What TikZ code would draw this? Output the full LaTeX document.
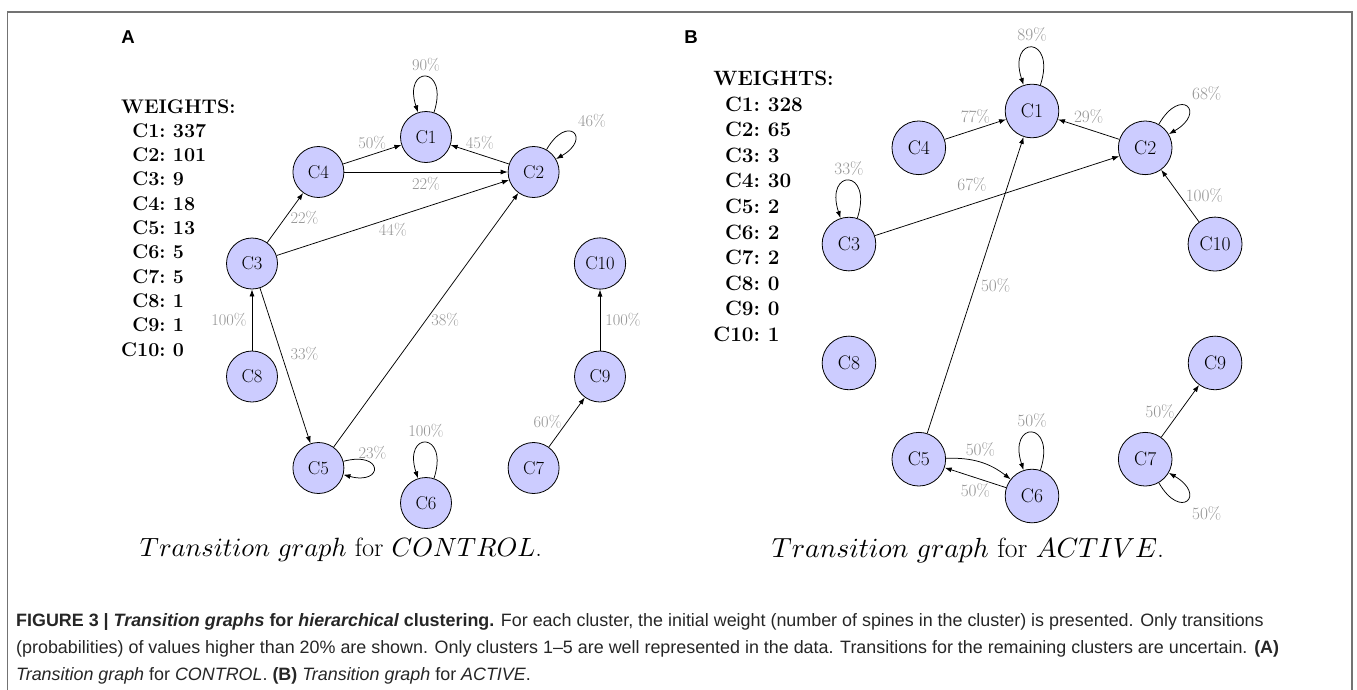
\documentclass[tikz,border=0pt]{standalone}
\usepackage{fontspec}
\newfontfamily\capfont{Liberation Sans}
\usetikzlibrary{arrows.meta}
% math italic at any size
\DeclareFontShape{OML}{cmm}{m}{it}{<->cmmi10}{}

\begin{document}
\begin{tikzpicture}[x=1pt,y=-1pt,
  cnode/.style={circle,draw=black,line width=0.8pt,fill=blue!20,minimum size=51pt,
    inner sep=7pt,font=\fontsize{18.6}{20}\selectfont},
  edge/.style={-{Latex[length=7pt,width=5pt]},line width=0.75pt},
  lbl/.style={font=\fontsize{16.4}{18}\selectfont,text=black!42,inner sep=5pt},
  weights/.style={anchor=base west,inner sep=0pt,font=\bfseries\fontsize{19.7}{24.3}\selectfont},
  title/.style={font=\fontsize{26.4}{30}\selectfont},
  paneltag/.style={font=\capfont\bfseries\fontsize{18.6}{20}\selectfont},
  capline/.style={anchor=base west,inner sep=0pt,text=black!85,font=\capfont\fontsize{17.9}{20}\selectfont},
]
\useasboundingbox (0,0) rectangle (1357,689);

% open frame around the figure
\draw[line width=1.4pt,black!55] (7.5,700) -- (7.5,12) -- (1352,12) -- (1352,700);

\node[paneltag] (tagA) at (128,37) {A};
\node[paneltag] (tagB) at (691,37) {B};

% ---------------- panel A: CONTROL ----------------
\begin{scope}[shift={(426,320)}]
  \node[weights] (wA) at (-305,-207) {\begin{tabular}[t]{@{}r@{\ }l@{}}
    \multicolumn{2}{@{}l@{}}{WEIGHTS:}\\
    C1:&337\\ C2:&101\\ C3:&9\\ C4:&18\\ C5:&13\\
    C6:&5\\ C7:&5\\ C8:&1\\ C9:&1\\ C10:&0\end{tabular}};

  \node[cnode] (a1)  at (0,-183)        {C1};
  \node[cnode] (a2)  at (107.6,-148)    {C2};
  \node[cnode] (a10) at (174,-56.5)     {C10};
  \node[cnode] (a9)  at (174,56.5)      {C9};
  \node[cnode] (a7)  at (107.6,148)     {C7};
  \node[cnode] (a6)  at (0,183)         {C6};
  \node[cnode] (a5)  at (-107.6,148)    {C5};
  \node[cnode] (a8)  at (-174,56.5)     {C8};
  \node[cnode] (a3)  at (-174,-56.5)    {C3};
  \node[cnode] (a4)  at (-107.6,-148)   {C4};

  \draw[edge] (a1) to[out=72,in=108,looseness=8] node[lbl,above] {90\%} (a1);
  \draw[edge] (a2) to[out=60,in=30,looseness=8] node[lbl,above right] {46\%} (a2);
  \draw[edge] (a4) -- node[lbl,above] {50\%} (a1);
  \draw[edge] (a2) -- node[lbl,above] {45\%} (a1);
  \draw[edge] (a4) -- node[lbl,below] {22\%} (a2);
  \draw[edge] (a3) -- node[lbl,right] {22\%} (a4);
  \draw[edge] (a3) -- node[lbl,below] {44\%} (a2);
  \draw[edge] (a8) -- node[lbl,left] {100\%} (a3);
  \draw[edge] (a3) -- node[lbl,above right] {33\%} (a5);
  \draw[edge] (a5) -- node[lbl,right] {38\%} (a2);
  \draw[edge] (a5) to[out=15,in=-15,looseness=8] node[lbl,above,pos=0.4] {23\%} (a5);
  \draw[edge] (a6) to[out=72,in=108,looseness=8] node[lbl,above] {100\%} (a6);
  \draw[edge] (a7) -- node[lbl,left] {60\%} (a9);
  \draw[edge] (a9) -- node[lbl,right] {100\%} (a10);
\end{scope}

% ---------------- panel B: ACTIVE ----------------
\begin{scope}[shift={(1032,303.5)},scale=1.052,transform shape]
  \node[weights] (wB) at (-303,-207) {\begin{tabular}[t]{@{}r@{\ }l@{}}
    \multicolumn{2}{@{}l@{}}{WEIGHTS:}\\
    C1:&328\\ C2:&65\\ C3:&3\\ C4:&30\\ C5:&2\\
    C6:&2\\ C7:&2\\ C8:&0\\ C9:&0\\ C10:&1\end{tabular}};

  \node[cnode] (b1)  at (0,-183)        {C1};
  \node[cnode] (b2)  at (107.6,-148)    {C2};
  \node[cnode] (b10) at (174,-56.5)     {C10};
  \node[cnode] (b9)  at (174,56.5)      {C9};
  \node[cnode] (b7)  at (107.6,148)     {C7};
  \node[cnode] (b6)  at (0,183)         {C6};
  \node[cnode] (b5)  at (-107.6,148)    {C5};
  \node[cnode] (b8)  at (-174,56.5)     {C8};
  \node[cnode] (b3)  at (-174,-56.5)    {C3};
  \node[cnode] (b4)  at (-107.6,-148)   {C4};

  \draw[edge] (b1) to[out=72,in=108,looseness=8] node[lbl,above] {89\%} (b1);
  \draw[edge] (b2) to[out=60,in=30,looseness=8] node[lbl,above right] {68\%} (b2);
  \draw[edge] (b3) to[out=72,in=108,looseness=8] node[lbl,above] {33\%} (b3);
  \draw[edge] (b4) -- node[lbl,above] {77\%} (b1);
  \draw[edge] (b2) -- node[lbl,above] {29\%} (b1);
  \draw[edge] (b3) -- node[lbl,above left,pos=0.48] {67\%} (b2);
  \draw[edge] (b5) -- node[lbl,right] {50\%} (b1);
  \draw[edge] (b10) -- node[lbl,right] {100\%} (b2);
  \draw[edge] (b5) to[bend left=20] node[lbl,above] {50\%} (b6);
  \draw[edge] (b6) -- node[lbl,below] {50\%} (b5);
  \draw[edge] (b6) to[out=72,in=108,looseness=8] node[lbl,above] {50\%} (b6);
  \draw[edge] (b7) -- node[lbl,left] {50\%} (b9);
  \draw[edge] (b7) to[out=-60,in=-30,looseness=8] node[lbl,below right] {50\%} (b7);
\end{scope}

% sub-captions
\node[title] (tA) at (341,550) {$Transition\ graph$ for $CONTROL$.};
\node[title,font=\fontsize{27.7}{31}\selectfont] (tB) at (968,550) {$Transition\ graph$ for $ACTIVE$.};

% figure caption
\node[capline] (cap1) at (16,626) {{\bfseries FIGURE 3 | \itshape Transition graphs \upshape for \itshape hierarchical \upshape clustering.} For each cluster, the initial weight (number of spines in the cluster) is presented. Only transitions};
\node[capline] (cap2) at (16,653) {(probabilities) of values higher than 20\% are shown. Only clusters 1–5 are well represented in the data. Transitions for the remaining clusters are uncertain. \textbf{(A)}};
\node[capline] (cap3) at (16,680) {\textit{Transition graph} for \textit{CONTROL}. \textbf{(B)} \textit{Transition graph} for \textit{ACTIVE}.};
\end{tikzpicture}
\end{document}
